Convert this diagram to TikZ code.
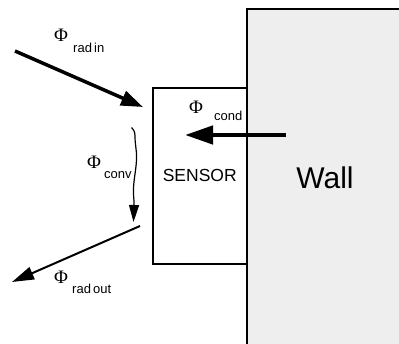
\documentclass[tikz,border=0pt]{standalone}
\usepackage{fontspec}
\setmainfont{Liberation Sans}
\newfontfamily\phifont{Liberation Serif}
\usetikzlibrary{arrows.meta}
\definecolor{wallgray}{HTML}{EEEEEE}
\begin{document}
\begin{tikzpicture}[x=1pt,y=-1pt,
  phil/.style={anchor=base west,inner sep=0pt,font=\phifont\fontsize{19}{22}\selectfont},
  subl/.style={anchor=base west,inner sep=0pt,font=\fontsize{13}{15}\selectfont},
]
\useasboundingbox (0,0) rectangle (399,343);
\clip (0,0) rectangle (399,343);
% wall
\node[draw,line width=2pt,fill=wallgray,minimum width=156pt,minimum height=338pt,
      anchor=north west,inner sep=0pt,font=\fontsize{30}{36}\selectfont] (wall) at (246,8) {Wall};
% sensor
\node[draw,line width=1.5pt,minimum width=94pt,minimum height=176pt,
      anchor=north west,inner sep=0pt,font=\fontsize{17.5}{20}\selectfont] (sensor) at (152,87) {SENSOR};
% coordinates
\coordinate (radinS) at (15,51);
\coordinate (radinE) at (143,107);
\coordinate (condS) at (286,135);
\coordinate (condE) at (185,135);
\coordinate (radoutS) at (140,226);
\coordinate (radoutE) at (12,282);
\coordinate (convS) at (131.5,127.5);
\coordinate (convE) at (133.5,222);
% arrows
\draw[line width=3.5pt,-{Triangle[length=22pt,width=15pt]}] (radinS) -- (radinE);
\draw[line width=4.5pt,-{Triangle[length=28pt,width=18pt]}] (condS) -- (condE);
\draw[line width=2pt,-{Triangle[length=22pt,width=13pt]}] (radoutS) -- (radoutE);
\draw[line width=1.2pt,-{Triangle[length=17pt,width=10pt]}] (convS)
  .. controls (133,129) and (135,131) .. (135,136)
  .. controls (135,146) and (137,150) .. (136.5,160)
  .. controls (136,170) and (134,178) .. (133.5,188)
  .. controls (133,196) and (134.5,200) .. (134,206)
  -- (convE);
% labels
\node[phil] (phiradin) at (54,41) {Φ};
\node[subl] (subradin) at (73,52) {rad\,in};
\node[phil] (phicond) at (189,113) {Φ};
\node[subl] (subcond) at (214,120) {cond};
\node[phil] (phiconv) at (87,168) {Φ};
\node[subl] (subconv) at (104,178) {conv};
\node[phil] (phiradout) at (54,283) {Φ};
\node[subl] (subradout) at (72,293) {rad\,out};
\end{tikzpicture}
\end{document}
